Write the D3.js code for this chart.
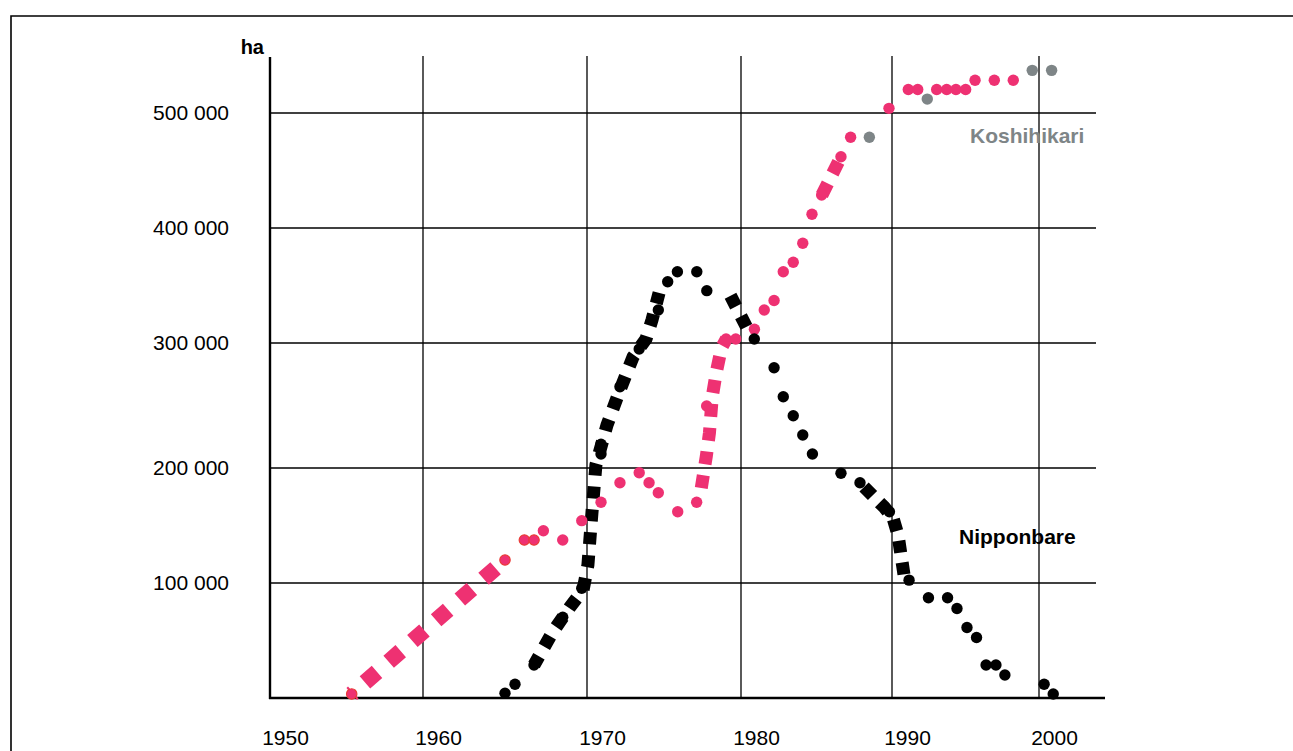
<!DOCTYPE html>
<html lang="en">
<head>
<meta charset="UTF-8">
<title>Koshihikari / Nipponbare</title>
<script src="https://d3js.org/d3.v7.min.js"></script>
<style>
  body { margin: 0; background: #fff; }
  svg text { font-family: "Liberation Sans", Arial, sans-serif; }
</style>
</head>
<body>
<div id="chart"></div>
<script>
// tick values
const yearTicks = [1950, 1960, 1970, 1980, 1990, 2000];
const valueTicks = [100000, 200000, 300000, 400000, 500000];

// Koshihikari (ha) - yearly dots
const koshiRedDots = [[1955.34, 3500], [1965.0, 120000], [1966.18, 137400], [1966.77, 137400]];
const koshiDots = [
  [1967.34, 145500], [1968.52, 137400], [1969.68, 154200], [1970.91, 170200], [1972.14, 187200],
  [1973.39, 195900], [1974.03, 187200], [1974.63, 178500], [1975.89, 162000], [1977.12, 170200],
  [1977.77, 249600], [1979.03, 303500], [1979.66, 303500], [1980.89, 311900], [1981.54, 328700],
  [1982.19, 337000], [1982.8, 362000], [1983.46, 370200], [1984.09, 386700], [1984.7, 411900],
  [1985.34, 428700], [1986.62, 462000], [1987.26, 478900], [1989.8, 504100], [1991.11, 520600],
  [1991.75, 520600], [1993.04, 520600], [1993.72, 520600], [1994.35, 520600], [1995.01, 520600],
  [1995.65, 528700], [1996.96, 528700], [1998.25, 528700]
];
const koshiGrayDots = [[1988.5, 478900], [1992.4, 512200], [1999.54, 537400], [2000.86, 537400]];

// Koshihikari - dashed trend pieces
const koshiTrendA = [[1955.34, 3500], [1965.0, 120000]];
const koshiTrendB = [[1977.36, 177400], [1977.75, 209600], [1977.95, 228000], [1978.14, 257600],
  [1978.4, 276800], [1978.73, 296000], [1979.05, 303500]];
const koshiTrendC = [[1985.36, 428700], [1986.62, 462000]];

// Nipponbare (ha) - yearly dots
const nippDots = [
  [1965.0, 4100], [1965.61, 11900], [1966.77, 28700], [1968.52, 70200], [1969.68, 95400],
  [1970.91, 219000], [1970.91, 211200], [1972.14, 265000], [1973.39, 295200], [1974.63, 328700],
  [1975.24, 353300], [1975.87, 362000], [1977.13, 362000], [1977.78, 345500], [1980.88, 303500],
  [1982.19, 280200], [1982.8, 257000], [1983.46, 241800], [1984.09, 226400], [1984.73, 211200],
  [1986.62, 195400], [1987.88, 187200], [1989.83, 162000], [1991.16, 102500], [1992.48, 87200],
  [1993.78, 87200], [1994.42, 77800], [1995.1, 61300], [1995.75, 52600], [1996.4, 28700],
  [1997.07, 28700], [1997.68, 20000], [2000.35, 11900], [2000.97, 3500]
];

// Nipponbare - dashed trend pieces
const nippTrendA = [[1966.77, 28700], [1967.87, 56500], [1968.96, 79100], [1969.76, 93900],
  [1970.06, 115700], [1970.32, 160900], [1970.58, 202400], [1971.3, 234400], [1972.14, 262400],
  [1972.99, 288800], [1973.83, 303500], [1974.22, 320000], [1974.68, 343500]];
const nippTrendB = [[1979.32, 341100], [1980.6, 307800]];
const nippTrendC = [[1988.15, 183500], [1989.47, 166100], [1990.07, 156500], [1990.41, 141700], [1990.82, 107000]];

const pink = "#ee3172", gray = "#7e8587";

const width = 1293, height = 751;
const svg = d3.select("#chart").append("svg")
  .attr("width", width).attr("height", height);

// the printed axis is a bit uneven, so piecewise scales
const x = d3.scaleLinear()
  .domain([1950, 1960, 1970, 1980, 1990, 2000, 2004.5])
  .range([270, 423, 587, 741, 892, 1039, 1105]);
const y = d3.scaleLinear()
  .domain([0, 100000, 200000, 300000, 400000, 500000, 550000])
  .range([698, 583, 468, 343, 228, 113, 56]);

// frame
svg.append("path")
  .attr("d", `M11,${height} V16 H${width}`)
  .attr("fill", "none").attr("stroke", "#000").attr("stroke-width", 1.6);

// grid
svg.append("g").selectAll("line").data(valueTicks).join("line")
  .attr("x1", x(1950)).attr("x2", 1096)
  .attr("y1", d => y(d)).attr("y2", d => y(d))
  .attr("stroke", "#000").attr("stroke-width", 1.3);
svg.append("g").selectAll("line").data(yearTicks.slice(1)).join("line")
  .attr("x1", d => x(d)).attr("x2", d => x(d))
  .attr("y1", y(550000)).attr("y2", y(0))
  .attr("stroke", "#000").attr("stroke-width", 1.3);

// axes lines
svg.append("line").attr("x1", x(1950)).attr("x2", x(1950))
  .attr("y1", y(550000) + 1).attr("y2", y(0) + 1)
  .attr("stroke", "#000").attr("stroke-width", 2.4);
svg.append("line").attr("x1", x(1950) - 1).attr("x2", x(2004.5))
  .attr("y1", y(0)).attr("y2", y(0))
  .attr("stroke", "#000").attr("stroke-width", 2.4);

// tick labels
const yAxis = svg.append("g")
  .attr("transform", `translate(${x(1950)},0)`)
  .call(d3.axisLeft(y).tickValues(valueTicks).tickSize(0).tickPadding(41)
    .tickFormat(d => d3.format(",")(d).replace(/,/g, " ")));
yAxis.select(".domain").remove();
yAxis.selectAll("text").attr("font-size", 21).attr("fill", "#000")
  .attr("font-family", "Liberation Sans, Arial, sans-serif");

const xAxis = svg.append("g")
  .attr("transform", `translate(0,${y(0)})`)
  .call(d3.axisBottom(x).tickValues(yearTicks).tickSize(0).tickPadding(32).tickFormat(d3.format("d")));
xAxis.select(".domain").remove();
xAxis.selectAll("text").attr("font-size", 21).attr("fill", "#000").attr("dx", 15)
  .attr("font-family", "Liberation Sans, Arial, sans-serif");

svg.append("text").attr("x", 264).attr("y", 54).attr("text-anchor", "end")
  .attr("font-size", 20).attr("font-weight", "bold").text("ha");

// dashed trend lines
const line = d3.line().x(d => x(d[0])).y(d => y(d[1]));

function dashed(data, color, w, dash, offset) {
  svg.append("path").datum(data)
    .attr("d", line)
    .attr("fill", "none")
    .attr("stroke", color)
    .attr("stroke-width", w)
    .attr("stroke-dasharray", dash)
    .attr("stroke-dashoffset", offset);
}
dashed(koshiTrendA, pink, 16, "16,15.5", 13.9);
dashed(koshiTrendB, pink, 13, "13,11", 18);
dashed(koshiTrendC, pink, 13, "13,11", 0);
dashed(nippTrendA, "#000", 13, "12,11", 2);
dashed(nippTrendB, "#000", 13, "12,11", 0);
dashed(nippTrendC, "#000", 13, "12,10", 0);

// dots
function dots(data, fill, stroke) {
  svg.append("g").selectAll("circle").data(data).join("circle")
    .attr("cx", d => x(d[0])).attr("cy", d => y(d[1]))
    .attr("r", stroke ? 5.2 : 5.7)
    .attr("fill", fill)
    .attr("stroke", stroke || "none")
    .attr("stroke-width", 1.2);
}
dots(koshiDots, pink);
dots(koshiRedDots, pink, "#ea3b35");
dots(koshiGrayDots, gray);
dots(nippDots, "#000");

// series labels
svg.append("text").attr("x", 970).attr("y", 143)
  .attr("font-size", 21).attr("font-weight", "bold").attr("fill", gray).text("Koshihikari");
svg.append("text").attr("x", 959).attr("y", 544)
  .attr("font-size", 21).attr("font-weight", "bold").attr("fill", "#000").text("Nipponbare");
</script>
</body>
</html>
